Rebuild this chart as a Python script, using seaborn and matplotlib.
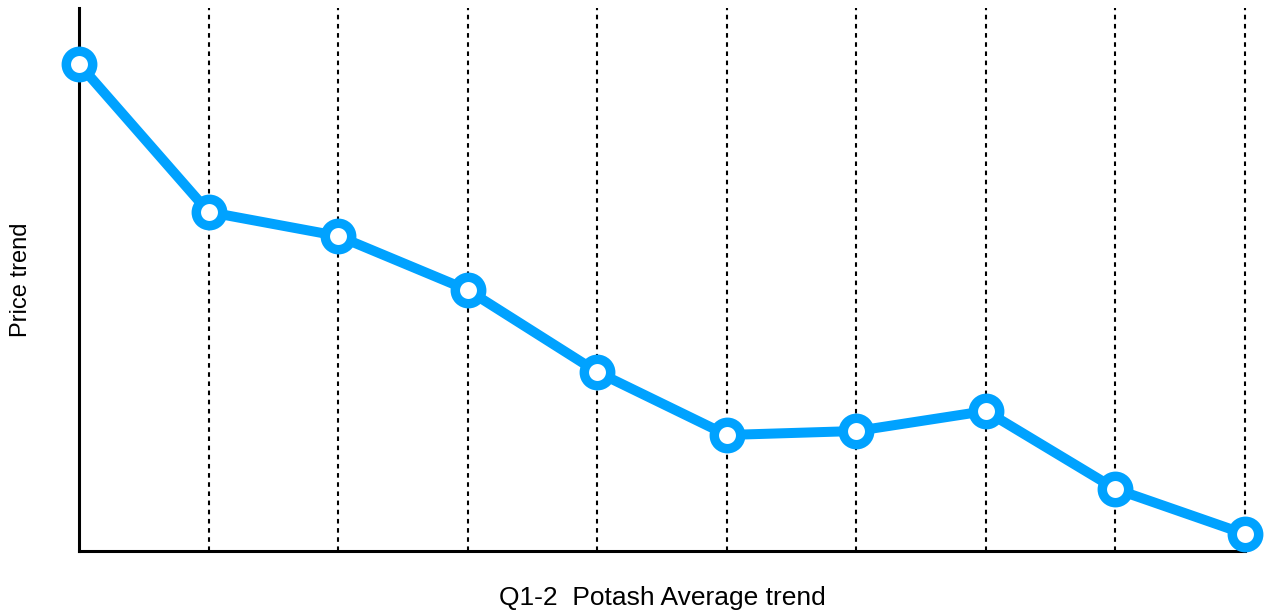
import numpy as np
import pandas as pd
import seaborn as sns
import matplotlib.pyplot as plt

# values (arbitrary price-trend units)
periods = list(range(10))
price = [487, 339, 315, 261, 179, 116, 120, 140, 62, 17]
grid_x = [1, 2, 3, 4, 5, 6, 7, 8, 9]

sns.set_style('white')
plt.rcParams['font.family'] = ['Liberation Sans', 'DejaVu Sans']

df = pd.DataFrame({'period': periods, 'price': price})

fig = plt.figure(figsize=(12.66, 6.14), dpi=100)
ax = fig.add_axes([79 / 1266, 63 / 614, (1245 - 79) / 1266, (551 - 8) / 614])

# dotted vertical guides
for gx in grid_x:
    ax.axvline(gx, color='black', lw=1.5, linestyle=(0, (2.2, 2.2)),
               zorder=1, clip_on=False)

sns.lineplot(data=df, x='period', y='price', ax=ax, color='#00A2FF',
             lw=7.2, marker='o', markersize=19, markeredgewidth=6.8,
             markeredgecolor='#00A2FF', markerfacecolor='white', zorder=3,
             clip_on=False)

ax.set_xlim(0, 9)
ax.set_ylim(0, 543)
ax.set_xticks([])
ax.set_yticks([])
sns.despine(ax=ax)
for s in ['left', 'bottom']:
    ax.spines[s].set_linewidth(2.2)
    ax.spines[s].set_color('black')

ax.set_xlabel('Q1-2  Potash Average trend', fontsize=19, labelpad=25, color='black')
ax.set_ylabel('Price trend', fontsize=17, labelpad=34, color='black')

plt.savefig('out.png', dpi=100)
